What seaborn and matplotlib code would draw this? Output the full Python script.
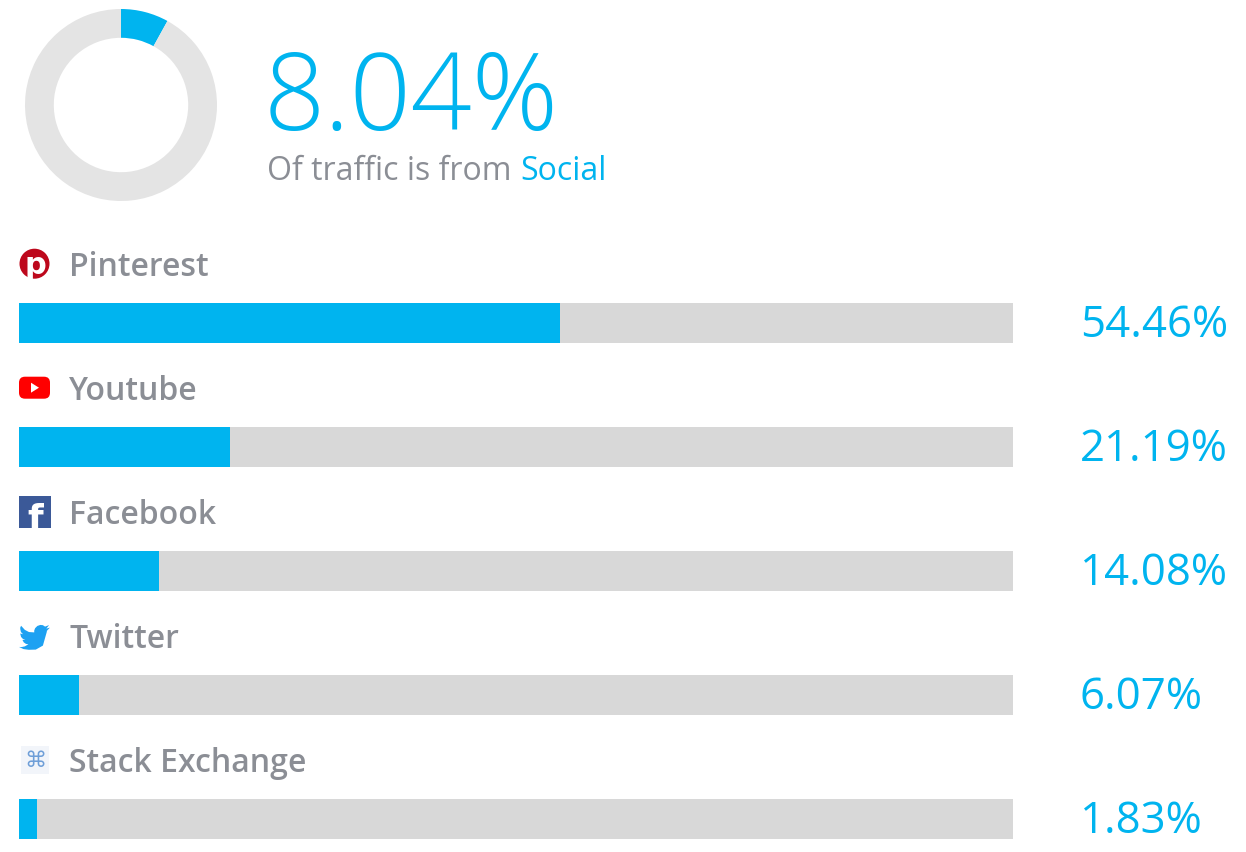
"""
Social traffic breakdown - donut + progress bars
"""
import numpy as np
import pandas as pd
import matplotlib
matplotlib.use("Agg")
import matplotlib.pyplot as plt
from matplotlib.patches import Circle, FancyBboxPatch, Polygon, Rectangle
import seaborn as sns

# data
social_share = 8.04
networks = ["Pinterest", "Youtube", "Facebook", "Twitter", "Stack Exchange"]
shares = [54.46, 21.19, 14.08, 6.07, 1.83]

BLUE = "#00b4ef"
TRACK = "#d8d8d8"
RING = "#e4e4e4"
GREY_TXT = "#8b8e95"

sns.set_theme(style="white")
plt.rcParams["font.family"] = ["Open Sans", "DejaVu Sans"]

W, H = 1246, 853
fig = plt.figure(figsize=(W / 100, H / 100), dpi=100)
fig.patch.set_facecolor("white")

# donut
ax_d = fig.add_axes([25 / W, (H - 202) / H, 192 / W, 192 / H])
ax_d.pie([social_share, 100 - social_share], colors=[BLUE, RING], startangle=90,
         counterclock=False, radius=1, wedgeprops=dict(width=0.30, linewidth=0))
ax_d.set_xlim(-1, 1)
ax_d.set_ylim(-1, 1)
ax_d.axis("off")

# bars
top_px = 240
ax = fig.add_axes([19 / W, 0, 994 / W, (H - top_px) / H])
df = pd.DataFrame({"network": networks, "share": shares, "full": [100] * len(shares)})
row_h = 124.0
bar_w = 40 / row_h
sns.barplot(data=df, x="full", y="network", color=TRACK, width=bar_w, orient="h",
            linewidth=0, saturation=1, ax=ax)
sns.barplot(data=df, x="share", y="network", color=BLUE, width=bar_w, orient="h",
            linewidth=0, saturation=1, ax=ax)
first_c = 323.5
ax.set_ylim((H - first_c) / row_h, (top_px - first_c) / row_h)
ax.set_xlim(0, 100)
ax.axis("off")

label_off = -0.45
px_per_unit = 994 / 100
for i, (name, val) in enumerate(zip(networks, shares)):
    ax.text(50 / px_per_unit, i + label_off, name, ha="left", va="center",
            fontsize=23, fontweight="semibold", color=GREY_TXT, clip_on=False)
    ax.text((1080 - 19) / px_per_unit, i + 0.018, f"{val:.2f}%",
            ha="left", va="center", fontsize=31.5, color=BLUE, clip_on=False)

# overlay in pixel coords for headline text and icons
ov = fig.add_axes([0, 0, 1, 1], facecolor="none")
ov.set_xlim(0, W)
ov.set_ylim(H, 0)
ov.axis("off")

ov.text(264, 130, f"{social_share:.2f}%", fontsize=77, fontweight="light",
        color=BLUE, ha="left", va="baseline")
t1 = ov.text(267, 180, "Of traffic is from ", fontsize=23, color=GREY_TXT,
             ha="left", va="baseline")
fig.canvas.draw()
bb = t1.get_window_extent()
x_end = bb.x1
ov.text(x_end, 180, "Social", fontsize=23, color=BLUE, ha="left", va="baseline",
        transform=matplotlib.transforms.blended_transform_factory(
            matplotlib.transforms.IdentityTransform(), ov.transData))

# twitter bird outline (24-unit box, y down)
bird = np.array([
    (23.95, 4.57), (21.13, 5.35), (23.29, 2.62), (20.17, 3.81), (18.5, 2.7),
    (16.5, 2.5), (14.2, 3.3), (12.5, 5.0), (11.8, 6.8), (11.79, 8.29),
    (7.7, 8.0), (4.5, 6.3), (1.64, 3.16), (1.0, 4.4), (0.97, 5.64),
    (1.5, 8.0), (3.16, 9.73), (0.93, 9.12), (0.93, 9.18), (1.6, 11.8),
    (3.0, 13.3), (4.88, 14.0), (2.66, 14.09), (3.7, 16.0), (5.4, 17.2),
    (7.27, 17.5), (4.5, 19.1), (2.0, 19.65), (0.0, 19.54), (3.5, 21.2),
    (7.56, 21.75), (13.0, 21.6), (18.5, 18.5), (21.55, 7.76), (21.54, 7.13),
])

for i, name in enumerate(networks):
    disp = ax.transData.transform((0, i + label_off))
    cy = H - disp[1] - 3
    if name == "Pinterest":
        ov.add_patch(Circle((34.5, cy), 15, color="#bd081c", lw=0))
        ov.text(35, cy + 1, "p", fontsize=22, fontweight="bold", color="white",
                ha="center", va="center", family="DejaVu Sans")
    elif name == "Youtube":
        ov.add_patch(FancyBboxPatch((21, cy - 9), 27, 18,
                                    boxstyle="round,pad=2,rounding_size=6",
                                    color="#ff0000", lw=0))
        ov.add_patch(Polygon([(31, cy - 5), (31, cy + 5), (39, cy)],
                             closed=True, color="white", lw=0))
    elif name == "Facebook":
        ov.add_patch(Rectangle((19, cy - 15.5), 32, 32, color="#3b5998", lw=0))
        ov.text(43, cy + 17, "f", fontsize=26, fontweight="bold", color="white",
                ha="right", va="baseline", family="DejaVu Sans")
    elif name == "Twitter":
        pts = bird * (31 / 24.0) + np.array([19, cy - 14])
        ov.add_patch(Polygon(pts, closed=True, color="#1da1f2", lw=0))
    else:
        ov.add_patch(Rectangle((21, cy - 14), 28, 28, color="#f2f5fa", lw=0))
        ov.text(35, cy, "\u2318", fontsize=16, color="#6f9fd8", ha="center",
                va="center", family="DejaVu Sans")

plt.savefig("out.png", dpi=100)
